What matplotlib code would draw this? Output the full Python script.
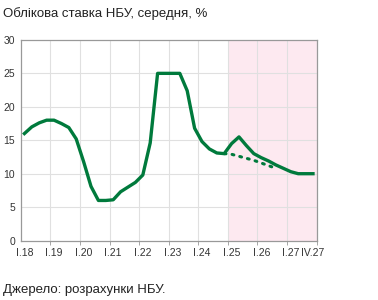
import matplotlib
matplotlib.use("Agg")
import matplotlib.pyplot as plt
import numpy as np

plt.rcParams['font.family'] = ['Liberation Sans', 'DejaVu Sans']

title = "Облікова ставка НБУ, середня, %"
source = "Джерело: розрахунки НБУ."

# quarterly values I.18 .. IV.27 (40 quarters)
rate = [16.0, 17.0, 17.6, 18.0, 18.0, 17.5, 16.9, 15.2,
        11.8, 8.1, 6.0, 6.0, 6.1, 7.3, 8.0, 8.7,
        9.8, 14.6, 25.0, 25.0, 25.0, 25.0, 22.4, 16.8,
        14.8, 13.7, 13.1, 13.0, 14.5, 15.5, 14.2, 13.0,
        12.4, 11.9, 11.3, 10.8, 10.3, 10.0, 10.0, 10.0]
# previous forecast path (dotted), from IV.24 to III.26
prev_start = 27
prev = [13.0, 12.9, 12.6, 12.3, 12.0, 11.6, 11.2, 10.8]

tick_idx = [0, 4, 8, 12, 16, 20, 24, 28, 32, 36, 39]
tick_labels = ["I.18", "I.19", "I.20", "I.21", "I.22", "I.23", "I.24",
               "I.25", "I.26", "I.27", "IV.27"]
forecast_from = 28

green = "#007a3c"

fig = plt.figure(figsize=(3.78, 3.0), dpi=100)
ax = fig.add_axes([0.0548, 0.198, 0.783, 0.669])

n = len(rate)
x = np.arange(n)
ax.axvspan(forecast_from - 0.5, n - 0.5, color="#fde9f0", zorder=0, lw=0)

for gx in np.arange(-0.5, n, 4)[1:]:
    ax.axvline(gx, color="#e0e0e0", lw=0.8, zorder=1)
for gy in [5, 10, 15, 20, 25]:
    ax.axhline(gy, color="#e0e0e0", lw=0.8, zorder=1)

px = np.arange(prev_start, prev_start + len(prev))
ax.plot(px, prev, color=green, lw=2.2, linestyle=(0, (0.6, 2.0)),
        dash_capstyle='round', zorder=3)
ax.plot(x, rate, color=green, lw=2.4, zorder=4, solid_joinstyle='round')

ax.set_xlim(-0.5, n - 0.5)
ax.set_ylim(0, 30)
ax.set_yticks([0, 5, 10, 15, 20, 25, 30])
ax.set_xticks(tick_idx)
ax.set_xticklabels(tick_labels)
ax.set_xticks(np.arange(-0.5, n, 4)[1:], minor=True)
ax.tick_params(axis='x', which='major', length=0, pad=5.5, labelsize=7.5, colors="#333333")
ax.tick_params(axis='x', which='minor', length=3, color="#999999", direction='out')
ax.tick_params(axis='y', length=0, pad=4, labelsize=7.5, colors="#333333")
for sp in ax.spines.values():
    sp.set_color("#999999")
    sp.set_linewidth(0.9)

fig.text(0.008, 0.955, title, fontsize=9.5, color="#222222", va='center', ha='left')
fig.text(0.008, 0.033, source, fontsize=9.5, color="#222222", va='center', ha='left')

fig.savefig("out.png", dpi=100)
